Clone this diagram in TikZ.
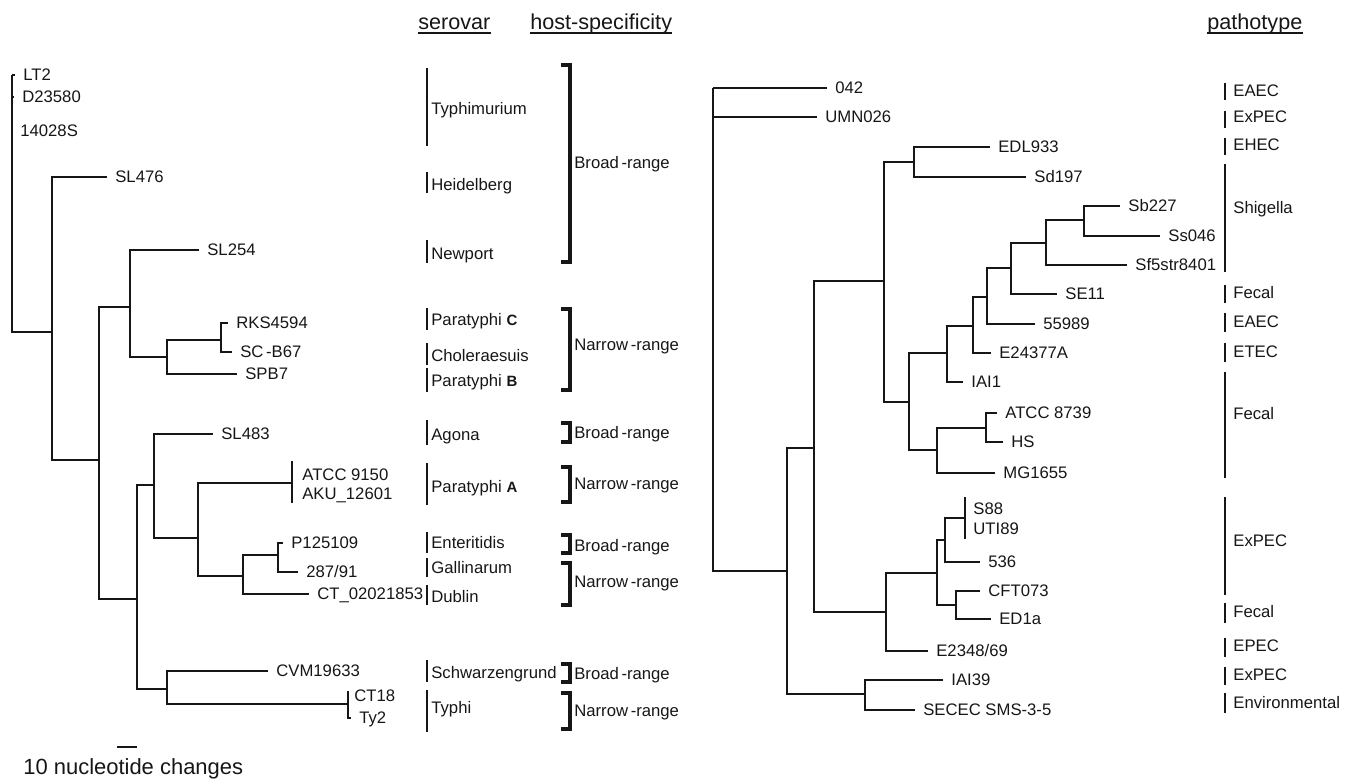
\documentclass[tikz,border=0pt]{standalone}
\usepackage{fontspec}
\setmainfont{Liberation Sans}
\usepackage{xcolor}
\usetikzlibrary{positioning}
\definecolor{treeink}{HTML}{161616}
\newcommand\serotag[1]{{\fontsize{8.5}{10}\selectfont\bfseries #1}}
\tikzset{
branch/.style={draw=treeink, line width=1.25pt},
taxon/.style={
	font=\fontsize{9.5}{11}\selectfont,
	text=treeink,
	inner sep=0pt,
	text height=6.8pt,
	text depth=0pt,
	anchor=west
},
groupbar/.style={draw=treeink, line width=1.45pt},
hostbracket/.style={draw=treeink, line width=1.8pt, line join=miter},
colhead/.style={font=\fontsize{12.3}{14}\selectfont, text=treeink, inner sep=0pt, text depth=2.2pt, anchor=base west},
underbar/.style={draw=treeink, line width=0.85pt}
}

\begin{document}
\begin{tikzpicture}[x=0.02cm,y=-0.02cm,node distance=0.16cm]
% picture measured in pixels of a 1351 x 778 frame, y grows downwards
\useasboundingbox (0,0) rectangle (1351,778);

% ── Column headers ──────────────────────────────────────────────
\node[colhead] (hSero) at (418,29) {serovar};
\node[colhead] (hHost) at (530,29) {host-specificity};
\node[colhead] (hPath) at (1207,29) {pathotype};
\draw[underbar] (hSero.south west) -- (hSero.south east);
\draw[underbar] (hHost.south west) -- (hHost.south east);
\draw[underbar] (hPath.south west) -- (hPath.south east);

% ── Left tree: internal nodes ──────────────────────────────────
\coordinate (sA) at (12,75); % root
\coordinate (sB) at (52,332);
\coordinate (sC) at (99,460);
\coordinate (sD) at (130,307);
\coordinate (sE) at (167,357);
\coordinate (sF) at (221,340);
\coordinate (sG) at (137,599);
\coordinate (sH) at (154,485);
\coordinate (sI) at (198,538);
\coordinate (sJ) at (292,483);
\coordinate (sK) at (243,576);
\coordinate (sL) at (278,555);
\coordinate (sM) at (167,689);
\coordinate (sN) at (348,704);

% ── Left tree: tips and labels ─────────────────────────────────
\coordinate (lt2) at (15,75); \node[taxon,right=of lt2] (lt2-l) {LT2};
\coordinate (d23580) at (14,97); \node[taxon,right=of d23580] (d23580-l) {D23580};
\coordinate (s14028) at (12,131); \node[taxon,right=of s14028] (s14028-l) {14028S};
\coordinate (sl476) at (107,177); \node[taxon,right=of sl476] (sl476-l) {SL476};
\coordinate (sl254) at (199,250); \node[taxon,right=of sl254] (sl254-l) {SL254};
\coordinate (rks4594) at (228,323); \node[taxon,right=of rks4594] (rks4594-l) {RKS4594};
\coordinate (scb67) at (232,352); \node[taxon,right=of scb67] (scb67-l) {SC\kern1.5pt-B67};
\coordinate (spb7) at (237,374); \node[taxon,right=of spb7] (spb7-l) {SPB7};
\coordinate (sl483) at (213,434); \node[taxon,right=of sl483] (sl483-l) {SL483};
\coordinate (atcc9150) at (292,461); \node[taxon] (atcc9150-l) at (302,475) {ATCC 9150};
\coordinate (aku12601) at (292,503); \node[taxon] (aku12601-l) at (302,494) {AKU\_12601};
\coordinate (p125109) at (283,543); \node[taxon,right=of p125109] (p125109-l) {P125109};
\coordinate (s28791) at (298,572); \node[taxon,right=of s28791] (s28791-l) {287/91};
\coordinate (ct0202) at (309,594); \node[taxon,right=of ct0202] (ct0202-l) {CT\_02021853};
\coordinate (cvm19633) at (268,671); \node[taxon,right=of cvm19633] (cvm19633-l) {CVM19633};
\coordinate (ct18) at (348,691); \node[taxon] (ct18-l) at (354,696) {CT18};
\coordinate (ty2) at (351,718); \node[taxon,right=of ty2] (ty2-l) {Ty2};

% ── Left tree: branches ────────────────────────────────────────
\draw[branch] (sA) |- (lt2) (sA) |- (d23580) (sA) |- (s14028) (sA) |- (sB);
\draw[branch] (sB) |- (sl476) (sB) |- (sC);
\draw[branch] (sC) |- (sD) (sC) |- (sG);
\draw[branch] (sD) |- (sl254) (sD) |- (sE);
\draw[branch] (sE) |- (sF) (sE) |- (spb7);
\draw[branch] (sF) |- (rks4594) (sF) |- (scb67);
\draw[branch] (sG) |- (sH) (sG) |- (sM);
\draw[branch] (sH) |- (sl483) (sH) |- (sI);
\draw[branch] (sI) |- (sJ) (sI) |- (sK);
\draw[branch] (sJ) |- (atcc9150) (sJ) |- (aku12601);
\draw[branch] (sK) |- (sL) (sK) |- (ct0202);
\draw[branch] (sL) |- (p125109) (sL) |- (s28791);
\draw[branch] (sM) |- (cvm19633) (sM) |- (sN);
\draw[branch] (sN) |- (ct18) (sN) |- (ty2);

% ── Scale bar ──────────────────────────────────────────────────
\coordinate (barL) at (117,747);
\coordinate (barR) at (137,747);
\draw[branch] (barL) -- (barR);
\node[inner sep=0pt,anchor=west,text height=9pt,text depth=0pt,
 font=\fontsize{12.5}{14}\selectfont,text=treeink] (barText) at (23,767)
 {10 nucleotide changes};

% ── Serovar column ─────────────────────────────────────────────
\foreach \top/\bot/\ly/\txt [count=\i] in {
 68/146/109/Typhimurium, 172/193/185/Heidelberg, 240/263/254/Newport,
 308/330/320/{Paratyphi \serotag{C}}, 343/365/356/Choleraesuis,
 368/392/381/{Paratyphi \serotag{B}}, 420/445/435/Agona,
 463/505/487/{Paratyphi \serotag{A}}, 532/553/543/Enteritidis,
 558/577/568/Gallinarum, 585/605/597/Dublin,
 660/682/673/Schwarzengrund, 690/732/708/Typhi}
{
 \draw[groupbar] (427,\top) -- (427,\bot);
 \node[taxon] (sero\i) at (431,\ly) {\txt};
}

% ── Host-specificity brackets ──────────────────────────────────
\foreach \top/\bot/\ly/\txt [count=\i] in {
 65/262/163/Broad, 309/390/345/Narrow, 423/442/433/Broad,
 467/502/484/Narrow, 535/553/546/Broad, 563/605/582/Narrow,
 664/682/674/Broad, 693/729/711/Narrow}
{
 \draw[hostbracket] (561,\top) -- (570,\top) -- (570,\bot) -- (561,\bot);
 \node[taxon] (host\i) at (574,\ly) {\txt\kern1.5pt-range};
}

% ── Right tree: internal nodes ─────────────────────────────────
\coordinate (eA) at (713,88); % root
\coordinate (eB) at (787,571);
\coordinate (eC) at (814,448);
\coordinate (eD) at (884,281);
\coordinate (eE) at (914,162);
\coordinate (eF) at (909,402);
\coordinate (eG) at (947,353);
\coordinate (eH) at (973,326);
\coordinate (eI) at (987,297);
\coordinate (eJ) at (1011,268);
\coordinate (eK) at (1046,243);
\coordinate (eL) at (1084,220);
\coordinate (eM) at (937,450);
\coordinate (eN) at (986,428);
\coordinate (eO) at (886,612);
\coordinate (eP) at (937,573);
\coordinate (eQ) at (945,540);
\coordinate (eR) at (965,518);
\coordinate (eS) at (956,605);
\coordinate (eT) at (865,694);

% ── Right tree: tips and labels ────────────────────────────────
\coordinate (e042) at (827,88); \node[taxon,right=of e042] (e042-l) {042};
\coordinate (umn026) at (817,117); \node[taxon,right=of umn026] (umn026-l) {UMN026};
\coordinate (edl933) at (990,147); \node[taxon,right=of edl933] (edl933-l) {EDL933};
\coordinate (sd197) at (1026,177); \node[taxon,right=of sd197] (sd197-l) {Sd197};
\coordinate (sb227) at (1120,206); \node[taxon,right=of sb227] (sb227-l) {Sb227};
\coordinate (ss046) at (1160,236); \node[taxon,right=of ss046] (ss046-l) {Ss046};
\coordinate (sf5) at (1127,265); \node[taxon,right=of sf5] (sf5-l) {Sf5str8401};
\coordinate (se11) at (1057,294); \node[taxon,right=of se11] (se11-l) {SE11};
\coordinate (e55989) at (1035,324); \node[taxon,right=of e55989] (e55989-l) {55989};
\coordinate (e24377a) at (991,353); \node[taxon,right=of e24377a] (e24377a-l) {E24377A};
\coordinate (iai1) at (963,382); \node[taxon,right=of iai1] (iai1-l) {IAI1};
\coordinate (atcc8739) at (997,413); \node[taxon,right=of atcc8739] (atcc8739-l) {ATCC 8739};
\coordinate (hs) at (1003,442); \node[taxon,right=of hs] (hs-l) {HS};
\coordinate (mg1655) at (995,473); \node[taxon,right=of mg1655] (mg1655-l) {MG1655};
\coordinate (s88) at (965,497); \node[taxon] (s88-l) at (973,509) {S88};
\coordinate (uti89) at (965,539); \node[taxon] (uti89-l) at (973,529) {UTI89};
\coordinate (e536) at (980,562); \node[taxon,right=of e536] (e536-l) {536};
\coordinate (cft073) at (980,591); \node[taxon,right=of cft073] (cft073-l) {CFT073};
\coordinate (ed1a) at (991,619); \node[taxon,right=of ed1a] (ed1a-l) {ED1a};
\coordinate (e2348) at (928,651); \node[taxon,right=of e2348] (e2348-l) {E2348/69};
\coordinate (iai39) at (943,680); \node[taxon,right=of iai39] (iai39-l) {IAI39};
\coordinate (secec) at (915,710); \node[taxon,right=of secec] (secec-l) {SECEC SMS-3-5};

% ── Right tree: branches ───────────────────────────────────────
\draw[branch] (eA) |- (e042) (eA) |- (umn026) (eA) |- (eB);
\draw[branch] (eB) |- (eC) (eB) |- (eT);
\draw[branch] (eC) |- (eD) (eC) |- (eO);
\draw[branch] (eD) |- (eE) (eD) |- (eF);
\draw[branch] (eE) |- (edl933) (eE) |- (sd197);
\draw[branch] (eF) |- (eG) (eF) |- (eM);
\draw[branch] (eG) |- (eH) (eG) |- (iai1);
\draw[branch] (eH) |- (eI) (eH) |- (e24377a);
\draw[branch] (eI) |- (eJ) (eI) |- (e55989);
\draw[branch] (eJ) |- (eK) (eJ) |- (se11);
\draw[branch] (eK) |- (eL) (eK) |- (sf5);
\draw[branch] (eL) |- (sb227) (eL) |- (ss046);
\draw[branch] (eM) |- (eN) (eM) |- (mg1655);
\draw[branch] (eN) |- (atcc8739) (eN) |- (hs);
\draw[branch] (eO) |- (eP) (eO) |- (e2348);
\draw[branch] (eP) |- (eQ) (eP) |- (eS);
\draw[branch] (eQ) |- (eR) (eQ) |- (e536);
\draw[branch] (eR) |- (s88) (eR) |- (uti89);
\draw[branch] (eS) |- (cft073) (eS) |- (ed1a);
\draw[branch] (eT) |- (iai39) (eT) |- (secec);

% ── Pathotype column ───────────────────────────────────────────
\foreach \top/\bot/\ly/\txt [count=\i] in {
 83/100/91/EAEC, 111/128/117/ExPEC, 138/155/145/EHEC, 164/272/208/Shigella,
 285/303/293/Fecal, 313/332/322/EAEC, 343/362/352/ETEC, 372/478/414/Fecal,
 497/595/541/ExPEC, 603/623/612/Fecal, 638/657/646/EPEC, 667/685/675/ExPEC,
 693/713/703/Environmental}
{
 \draw[groupbar] (1225,\top) -- (1225,\bot);
 \node[taxon] (path\i) at (1233,\ly) {\txt};
}
\end{tikzpicture}
\end{document}
